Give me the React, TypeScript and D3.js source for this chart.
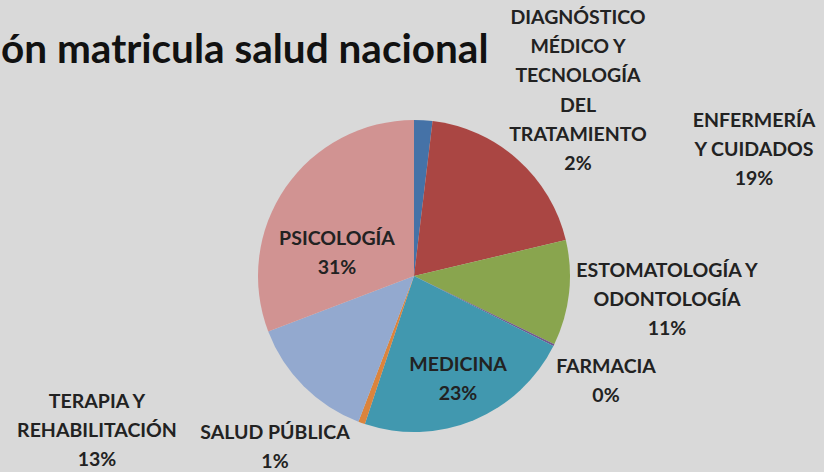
import React, { useRef, useEffect } from 'react';
import * as d3 from 'd3';

// Slices clockwise from 12 o'clock (percent of enrollment)
const categories = [
  'DIAGNÓSTICO MÉDICO Y TECNOLOGÍA DEL TRATAMIENTO',
  'ENFERMERÍA Y CUIDADOS',
  'ESTOMATOLOGÍA Y ODONTOLOGÍA',
  'FARMACIA',
  'MEDICINA',
  'SALUD PÚBLICA',
  'TERAPIA Y REHABILITACIÓN',
  'PSICOLOGÍA',
];
const values = [1.9, 19.4, 10.9, 0.2, 22.7, 0.7, 13.4, 30.8];
const labelLines = [
  ['DIAGNÓSTICO', 'MÉDICO Y', 'TECNOLOGÍA', 'DEL', 'TRATAMIENTO'],
  ['ENFERMERÍA', 'Y CUIDADOS'],
  ['ESTOMATOLOGÍA Y', 'ODONTOLOGÍA'],
  ['FARMACIA'],
  ['MEDICINA'],
  ['SALUD PÚBLICA'],
  ['TERAPIA Y', 'REHABILITACIÓN'],
  ['PSICOLOGÍA'],
];
const colors = ['#4572A7', '#AA4643', '#89A54E', '#71588F', '#4198AF', '#DB843D', '#93A9CF', '#D19392'];
// only the tail of the title is visible in the source picture
const title = 'ón matricula salud nacional';

// where each data label block sits (center x, first line y)
const labelPos = [
  [578, 17], [754, 120], [667, 270], [606, 366],
  [458, 364], [275, 432], [97, 401], [337, 238],
];

const App = () => {
  const svgRef = useRef<SVGSVGElement>(null);

  useEffect(() => {
    const width = 824;
    const height = 472;
    const cx = 414;
    const cy = 276;
    const radius = 156;
    const lineH = 29.3;

    const svg = d3.select(svgRef.current);
    svg.selectAll('*').remove();
    svg.attr('width', width).attr('height', height);

    svg.append('rect')
      .attr('width', width)
      .attr('height', height)
      .attr('fill', '#d9d9d9');

    const pie = d3.pie<number>().sort(null).value(d => d);
    const arc = d3.arc<d3.PieArcDatum<number>>().innerRadius(0).outerRadius(radius);

    const g = svg.append('g').attr('transform', `translate(${cx},${cy})`);
    g.selectAll('path')
      .data(pie(values))
      .enter().append('path')
      .attr('d', arc)
      .attr('fill', (d, i) => colors[i]);

    // Title
    svg.append('text')
      .attr('x', 1)
      .attr('y', 63)
      .attr('text-anchor', 'start')
      .attr('font-family', 'Lato, "Open Sans", sans-serif')
      .attr('font-weight', 'bold')
      .attr('font-size', '40.5px')
      .attr('fill', '#111')
      .text(title);

    // Data labels
    const total = d3.sum(values);
    categories.forEach((c, i) => {
      const lines = [...labelLines[i], `${Math.round((values[i] / total) * 100)}%`];
      const t = svg.append('text')
        .attr('text-anchor', 'middle')
        .attr('font-family', 'Lato, "Open Sans", sans-serif')
        .attr('font-weight', 'bold')
        .attr('font-size', '19.5px')
        .attr('fill', '#222');
      lines.forEach((ln, j) => {
        t.append('tspan')
          .attr('x', labelPos[i][0])
          .attr('y', labelPos[i][1] + j * lineH)
          .attr('dy', '0.35em')
          .text(ln);
      });
    });
  }, []);

  return (
    <svg ref={svgRef} style={{ position: 'fixed', left: 0, top: 0 }}></svg>
  );
};

export default App;
